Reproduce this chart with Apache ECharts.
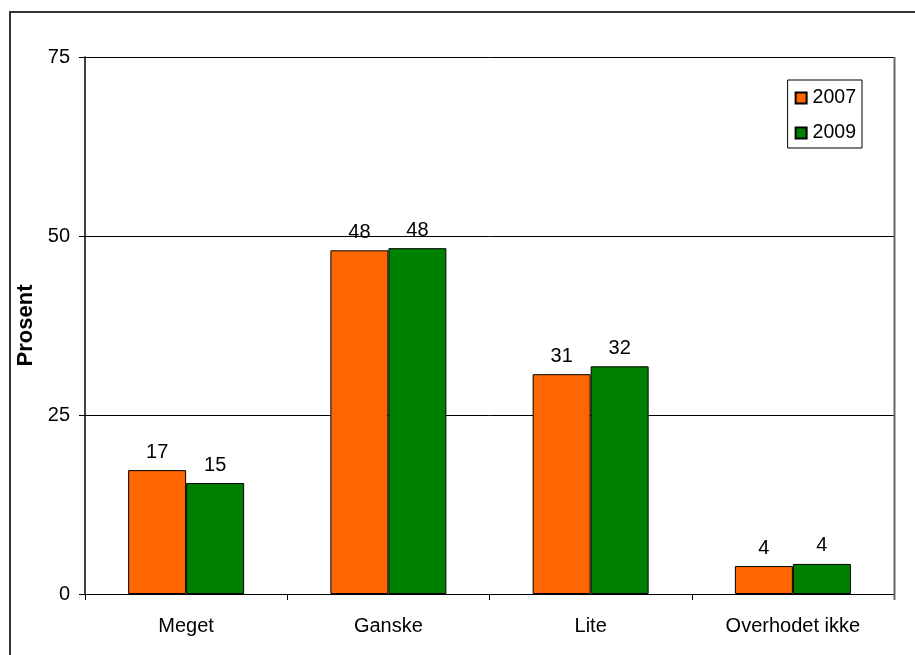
<!DOCTYPE html>
<html>
<head>
<meta charset="utf-8">
<script src="https://cdn.jsdelivr.net/npm/echarts@6/dist/echarts.min.js"></script>
<style>
  html, body { margin: 0; padding: 0; background: #fff; }
  #chart { width: 915px; height: 655px; }
</style>
</head>
<body>
<div id="chart"></div>
<script>
  // data
  var categories = ['Meget', 'Ganske', 'Lite', 'Overhodet ikke'];
  var seriesNames = ['2007', '2009'];
  var values2007 = [17.3, 48.0, 30.7, 3.9];
  var values2009 = [15.5, 48.3, 31.8, 4.2];
  var labels2007 = ['17', '48', '31', '4'];
  var labels2009 = ['15', '48', '32', '4'];
  var yTicks = [0, 25, 50, 75];

  var font = 'Liberation Sans, Arial, sans-serif';

  function makeSeries (name, vals, labels, color) {
    return {
      name: name,
      type: 'bar',
      barWidth: 58,
      barGap: '0%',
      data: vals,
      itemStyle: { color: color, borderColor: '#000', borderWidth: 1 },
      label: {
        show: true,
        position: 'top',
        distance: 8,
        color: '#000',
        fontFamily: font,
        fontSize: 20,
        formatter: function (p) { return labels[p.dataIndex]; }
      }
    };
  }

  var chart = echarts.init(document.getElementById('chart'));
  chart.setOption({
    animation: false,
    backgroundColor: '#fff',
    grid: { left: 85, top: 57, right: 21, bottom: 61, containLabel: false },
    legend: {
      data: seriesNames,
      orient: 'vertical',
      right: 53,
      top: 80,
      padding: [8, 6, 5, 7],
      itemGap: 15,
      itemWidth: 11,
      itemHeight: 11,
      borderColor: '#000',
      borderWidth: 1,
      backgroundColor: '#fff',
      icon: 'rect',
      textStyle: { fontFamily: font, fontSize: 19.5, color: '#000', padding: [0, 0, 0, 1] }
    },
    xAxis: {
      type: 'category',
      data: categories,
      axisLine: { lineStyle: { color: '#000', width: 1 } },
      axisTick: { show: true, length: 6, lineStyle: { color: '#000' } },
      axisLabel: { color: '#000', fontFamily: font, fontSize: 20, margin: 22 },
      splitLine: { show: false }
    },
    yAxis: {
      type: 'value',
      min: yTicks[0],
      max: yTicks[yTicks.length - 1],
      interval: 25,
      name: 'Prosent',
      nameLocation: 'middle',
      nameGap: 41,
      nameTextStyle: { fontFamily: font, fontSize: 22, fontWeight: 'bold', color: '#000' },
      axisLine: { show: true, lineStyle: { color: '#000', width: 1.5 } },
      axisTick: { show: true, length: 6, lineStyle: { color: '#000' } },
      axisLabel: { color: '#000', fontFamily: font, fontSize: 20, margin: 15 },
      splitLine: { show: true, lineStyle: { color: '#000', width: 1 } }
    },
    series: [
      makeSeries(seriesNames[0], values2007, labels2007, '#ff6600'),
      makeSeries(seriesNames[1], values2009, labels2009, '#008000')
    ],
    graphic: [
      {
        type: 'rect',
        silent: true,
        z: 100,
        shape: { x: 10, y: 12, width: 920, height: 700 },
        style: { fill: 'none', stroke: '#333', lineWidth: 2 }
      },
      {
        type: 'line',
        silent: true,
        z: 100,
        shape: { x1: 894.5, y1: 57, x2: 894.5, y2: 600 },
        style: { stroke: '#666', lineWidth: 2 }
      }
    ]
  });
</script>
</body>
</html>
